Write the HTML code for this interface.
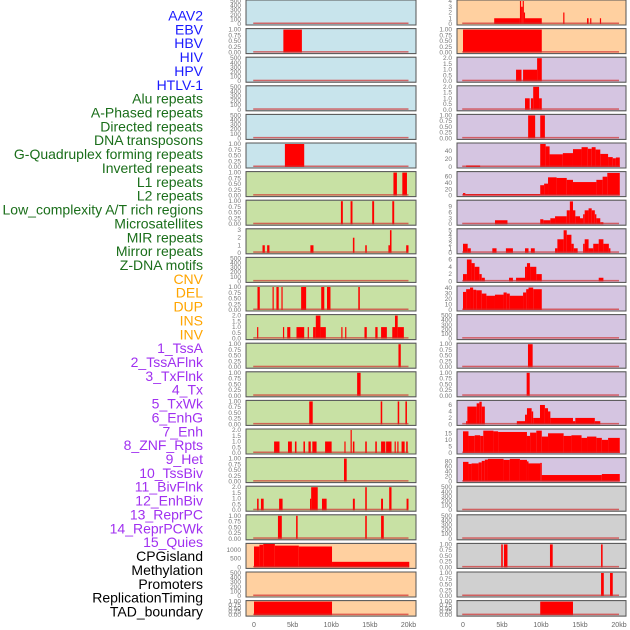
<!DOCTYPE html>
<html><head><meta charset="utf-8"><style>
body{margin:0;background:#fff;}
svg{display:block;font-family:"Liberation Sans",sans-serif;}
</style></head><body>
<svg id="chart" width="630" height="630" viewBox="0 0 630 630" xmlns="http://www.w3.org/2000/svg"></svg>
<script>
const trackLabels = ["AAV2","EBV","HBV","HIV","HPV","HTLV-1","Alu repeats","A-Phased repeats","Directed repeats","DNA transposons","G-Quadruplex forming repeats","Inverted repeats","L1 repeats","L2 repeats","Low_complexity A/T rich regions","Microsatellites","MIR repeats","Mirror repeats","Z-DNA motifs","CNV","DEL","DUP","INS","INV","1_TssA","2_TssAFlnk","3_TxFlnk","4_Tx","5_TxWk","6_EnhG","7_Enh","8_ZNF_Rpts","9_Het","10_TssBiv","11_BivFlnk","12_EnhBiv","13_ReprPC","14_ReprPCWk","15_Quies","CPGisland","Methylation","Promoters","ReplicationTiming","TAD_boundary"];
const labelGroups = [6,13,5,15,5];
const groupColors = ["#1a1aff","#1a6e1a","#ffa500","#a030f0","#000000"];
const xTickValues = [0,5,10,15,20];
const xTickLabels = ["0","5kb","10kb","15kb","20kb"];
const leftBg = ["b","b","b","b","b","b","g","g","g","g","g","g","g","g","g","g","g","g","g","o","o","o"];
const rightBg = ["o","o","p","p","p","p","p","p","p","p","p","p","p","p","p","p","p","x","x","x","x","x"];
const T500 = ["0","100","200","300","400","500"];
const T1 = ["0.00","0.25","0.50","0.75","1.00"];
const T2 = ["0.0","0.5","1.0","1.5","2.0"];
const leftYMax = [500,1,500,500,500,1,1,1,3.05,500,1,2,1,1,1,2,1,2,1,1320,500,1];
const leftTicks = [T500,T1,T500,T500,T500,T1,T1,T1,["0","1","2","3"],T500,T1,T2,T1,T1,T1,T2,T1,T2,T1,["0","500","1000"],T500,T1];
const rightYMax = [4,1,2,2,1,58,73,11.6,5.1,6.3,42,500,1,1,7.1,17.5,91,500,500,1,1,1];
const rightTicks = [["0","1","2","3","4"],T1,T2,T2,T1,["0","20","40"],["0","20","40","60"],["0","3","6","9"],["0","1","2","3","4","5"],["0","2","4","6"],["0","10","20","30","40"],T500,T1,T1,["0","2","4","6"],["0","5","10","15"],["0","20","40","60","80"],T500,T500,T1,T1,T1];
// bars: [startKb, endKb, value]
const L00=[], L02=[], L03=[], L04=[], L09=[], L20=[];
const L01=[[3.8,6.2,1]];
const L05=[[4.0,6.5,1]];
const L06=[[18.05,18.5,1],[19.2,19.8,1]];
const L07=[[11.25,11.5,1],[12.5,12.75,1],[15.3,15.55,1],[17.9,18.15,1]];
const L08=[[1.1,1.4,1],[1.7,2.0,1],[7.3,7.7,1],[12.8,13.0,2],[14.4,14.6,1],[17.4,17.6,1],[17.6,17.8,3],[19.7,20.0,1]];
const L10=[[0.45,0.75,1],[2.4,2.55,1],[2.9,3.2,1],[3.55,3.7,1],[6.1,6.75,1],[8.7,9.1,1],[9.45,9.9,1],[13.5,13.7,1]];
const L11=[[0.4,0.55,1],[3.75,3.9,1],[4.3,4.7,1],[5.5,6.5,1],[6.95,7.1,1],[7.65,8.0,1],[8.0,8.6,2],[8.6,9.3,1],[11.3,11.45,1],[11.8,11.95,1],[14.3,14.6,1],[15.7,16.0,1],[16.45,17.2,1],[17.9,18.25,1],[18.25,18.6,2],[18.6,19.4,1]];
const L12=[[18.7,19.0,1]];
const L13=[[13.35,13.8,1]];
const L14=[[7.15,7.6,1],[16.4,16.6,1],[18.6,18.8,1],[19.6,19.8,1]];
const L15=[[2.6,3.3,1],[4.4,4.9,1],[5.3,5.5,1],[6.4,6.6,1],[7.05,7.35,1],[7.55,8.1,1],[9.2,10.05,1],[11.7,11.85,1],[12.5,12.65,2],[12.8,13.0,1],[14.4,14.6,1],[15.7,15.9,1],[16.45,17.0,1],[17.1,17.8,1],[18.2,18.35,1],[18.55,18.7,1],[19.1,19.5,1],[19.7,19.9,1]];
const L16=[[11.65,12.0,1]];
const L17=[[0.4,0.6,1],[0.9,1.25,1],[3.25,3.7,1],[7.25,7.4,1],[7.4,8.25,2],[8.8,9.4,1],[12.8,13.05,1],[14.4,14.6,2],[16.45,16.7,1],[17.5,17.8,2],[19.75,20.0,1]];
const L18=[[3.1,3.6,1],[5.45,5.65,1],[14.4,14.6,1],[16.45,16.8,1]];
const L19=[[0,0.7,1200],[0.7,1.2,1300],[1.2,2.7,1350],[2.7,5.8,1250],[5.8,10.1,1200],[10.1,20.1,320]];
const L21=[[0,10.1,1]];
const R00=[[4.0,7.3,1],[7.3,7.45,4],[7.45,7.65,3],[7.65,7.8,4],[7.8,7.95,2],[7.95,10.1,1],[12.85,13.0,2],[15.9,16.1,1],[16.3,16.45,1],[17.55,17.7,1]];
const R01=[[0,10.1,1]];
const R02=[[6.8,7.5,1],[7.7,9.5,1],[9.5,10.1,2]];
const R03=[[7.95,8.55,1],[8.7,9.0,1],[9.0,9.75,2],[9.75,10.1,1]];
const R04=[[8.35,9.25,1],[9.9,10.5,1]];
const R05=[[0.4,2.2,4],[9.9,10.6,58],[10.6,11.1,52],[11.1,12.8,32],[12.8,14.1,35],[14.1,15.2,45],[15.2,16.0,50],[16.0,16.5,46],[16.5,17.0,50],[17.0,17.6,44],[17.6,18.6,33],[18.6,19.2,25],[19.2,19.6,22],[19.6,20.1,24]];
const R06=[[0,0.3,8],[0.3,9.9,5],[9.9,10.4,33],[10.4,10.9,38],[10.9,12.0,58],[12.0,13.3,56],[13.3,14.1,50],[14.1,17.1,43],[17.1,17.9,50],[17.9,18.5,60],[18.5,20.1,72]];
const R07=[[4.1,5.7,2],[9.9,10.3,2.5],[10.3,11.2,2],[11.2,11.8,3],[11.8,13.3,4],[13.3,13.7,7],[13.7,14.1,11.5],[14.1,14.4,7],[14.4,15.0,4],[15.0,15.4,3],[15.4,15.6,5],[15.6,16.1,7],[16.1,16.5,8],[16.5,16.9,7],[16.9,17.1,5],[17.1,17.6,3],[17.6,18.0,1]];
const R08=[[0,0.6,2],[0.6,1.0,1],[3.76,4.3,1],[5.5,6.4,1],[7.95,8.4,1],[8.7,9.2,1],[11.8,12.1,1],[12.1,12.9,3],[12.9,13.3,5],[13.3,13.9,4],[13.9,14.2,2],[14.2,14.7,1],[15.4,15.6,2],[15.6,16.1,3],[16.1,16.7,1],[16.7,17.4,2],[17.4,18.0,3],[18.0,18.7,2],[18.7,18.9,1]];
const R09=[[0,0.5,2],[0.5,1.1,6],[1.1,1.5,5],[1.5,2.1,4],[2.1,2.4,2],[2.4,2.8,1],[5.9,6.4,1],[6.8,7.95,1],[7.95,8.2,4],[8.2,8.6,5],[8.6,9.4,4],[9.4,10.1,2],[17.4,18.0,1]];
const R10=[[0,0.4,33],[0.4,0.9,38],[0.9,1.3,41],[1.3,1.7,37],[1.7,2.4,36],[2.4,3.0,30],[3.0,4.1,26],[4.1,5.2,28],[5.2,5.6,32],[5.6,6.0,30],[6.0,7.7,26],[7.7,8.1,32],[8.1,8.4,38],[8.4,9.0,41],[9.0,10.1,38]];
const R11=[], R17=[], R18=[];
const R12=[[8.33,8.93,1]];
const R13=[[8.16,8.55,1]];
const R14=[[0.4,0.56,1],[0.56,1.75,5.5],[1.75,2.1,6.5],[2.1,2.4,7],[2.4,2.8,5.5],[6.9,7.95,1],[7.95,8.2,3],[8.2,8.8,5],[8.8,9.0,4],[9.0,9.87,2],[9.87,10.5,6],[10.5,10.9,5],[10.9,11.2,4],[11.2,14.1,2],[14.1,14.4,1],[14.4,16.9,2],[16.9,17.6,1]];
const R15=[[0,0.7,16.5],[0.7,1.5,13],[1.5,2.2,13.5],[2.2,2.6,13],[2.6,3.9,17],[3.9,4.5,16.5],[4.5,8.2,16],[8.2,8.6,13],[8.6,9.4,15.5],[9.4,10.1,17],[10.1,10.9,12.5],[10.9,12.9,15],[12.9,13.9,13],[13.9,15.2,13.5],[15.2,15.9,11.5],[15.9,17.1,12.5],[17.1,17.8,11.5],[17.8,18.6,10],[18.6,20.1,11.5]];
const R16=[[0,0.7,78],[0.7,1.1,70],[1.1,2.0,72],[2.0,2.4,76],[2.4,2.8,82],[2.8,3.2,87],[3.2,5.2,90],[5.2,6.0,86],[6.0,7.3,90],[7.3,8.2,86],[8.2,8.4,80],[8.4,9.9,72],[9.9,10.1,74],[10.1,17.8,26],[17.8,20.1,30]];
const R19=[[4.9,5.1,1],[5.25,5.7,1],[11.15,11.5,1],[17.7,17.9,1]];
const R20=[[17.7,18.05,1],[18.85,19.2,1]];
const R21=[[9.9,14.1,1]];
const leftBars=[L00,L01,L02,L03,L04,L05,L06,L07,L08,L09,L10,L11,L12,L13,L14,L15,L16,L17,L18,L19,L20,L21];
const rightBars=[R00,R01,R02,R03,R04,R05,R06,R07,R08,R09,R10,R11,R12,R13,R14,R15,R16,R17,R18,R19,R20,R21];

const NS="http://www.w3.org/2000/svg";
const svg=document.getElementById('chart');
const bgColors={b:"#c8e4ec",g:"#c8e1a4",o:"#ffd0a0",p:"#d5c5e1",x:"#d0d0d0"};
function mk(tag,attrs,parent){const e=document.createElementNS(NS,tag);for(const k in attrs)e.setAttribute(k,attrs[k]);(parent||svg).appendChild(e);return e;}
const cols=[{x0:246,x1:416,k0:254,k20:408.5,tickX:241,bars:leftBars,ymax:leftYMax,ticks:leftTicks,bg:leftBg,name:'left'},
            {x0:457,x1:626,k0:463,k20:619,tickX:452,bars:rightBars,ymax:rightYMax,ticks:rightTicks,bg:rightBg,name:'right'}];
function rowTop(i){return 28.6*i;}
function rowH(i){return i===21?15.5:25;}
cols.forEach(c=>{
  const xs=kb=>c.k0+(c.k20-c.k0)*kb/20;
  for(let i=0;i<22;i++){
    const t=rowTop(i),h=rowH(i),b=t+h;
    const g=mk('g',{});
    
    
    const r=mk('rect',{x:c.x0,y:t,width:c.x1-c.x0,height:h,fill:bgColors[c.bg[i]],stroke:"#b0b0b0","stroke-width":1},g);
    
    
    const ymax=c.ymax[i];
    const ys=v=>b-1-(v/ymax)*(h-2);
    c.bars[i].forEach(d=>{
      const x1=xs(d[0]),x2=xs(d[1]);
      const br=mk('rect',{x:x1,y:ys(d[2]),width:Math.max(1.2,x2-x1),height:b-1-ys(d[2]),fill:"#ff0000"},g);
      
      
    });
    const bl=mk('rect',{x:xs(-0.1),y:b-2.5,width:xs(20)-xs(-0.1),height:1.5,fill:"#d03030",opacity:0.7},g);
    
    
    mk('rect',{x:c.x0,y:t,width:c.x1-c.x0,height:h,fill:"none",stroke:"#555","stroke-width":1},g);
    c.ticks[i].forEach(s=>{
      const tx=mk('text',{x:c.tickX,y:ys(parseFloat(s))+2,"font-size":6.5,fill:"#777","text-anchor":"end"},g);
      tx.textContent=s;
      
      
    });
  }
  xTickValues.forEach((v,j)=>{
    const tx=mk('text',{x:xs(v),y:627,"font-size":7,fill:"#666","text-anchor":"middle"});
    tx.textContent=xTickLabels[j];
    
    
  });
});
let idx=0;
labelGroups.forEach((n,gi)=>{
  for(let k=0;k<n;k++){
    const tx=mk('text',{x:203,y:20.5+13.86*idx,"font-size":14,fill:groupColors[gi],"text-anchor":"end"});
    tx.textContent=trackLabels[idx];
    
    
    idx++;
  }
});
</script>
</body></html>
